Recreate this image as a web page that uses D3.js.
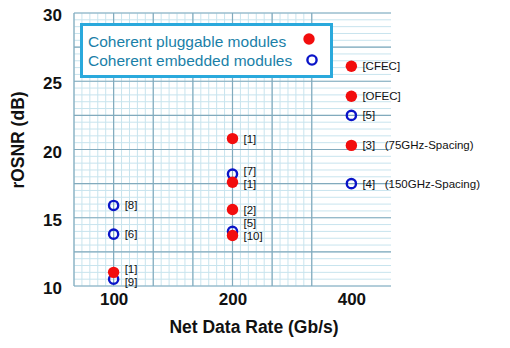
<!DOCTYPE html>
<html><head><meta charset="utf-8">
<script src="https://cdn.jsdelivr.net/npm/d3@7"></script>
<style>body{margin:0;background:#fff}svg{display:block}text{font-family:"Liberation Sans",Arial,sans-serif}</style>
</head><body><svg id="c" width="510" height="348"></svg>
<script>
// ---- data ----
const xTicks = [100, 200, 400];
const yTicks = [10, 15, 20, 25, 30];
const pluggableX = [100, 200, 200, 200, 200, 400, 400, 400];
const pluggableY = [11.0, 20.8, 17.6, 15.6, 13.7, 26.1, 23.9, 20.3];
const pluggableLabels = ["[1]", "[1]", "[1]", "[2]", "[10]", "[CFEC]", "[OFEC]", "[3]  (75GHz-Spacing)"];
const embeddedX = [100, 100, 100, 200, 200, 400, 400];
const embeddedY = [10.5, 13.8, 15.9, 18.2, 14.0, 22.5, 17.5];
const embeddedLabels = ["[9]", "[6]", "[8]", "[7]", "[5]", "[5]", "[4]  (150GHz-Spacing)"];
const legendLabels = ["Coherent pluggable modules", "Coherent embedded modules"];
const xTitle = "Net Data Rate (Gb/s)";
const yTitle = "rOSNR (dB)";

// ---- layout ----
const L = 74, R = 391, T = 13, B = 286;
const svg = d3.select("#c");
const x = d3.scaleLog().base(2).domain([100 * Math.pow(2, -1/3), 400 * Math.pow(2, 1/3)]).range([L, R]);
const y = d3.scaleLinear().domain([10, 30]).range([B, T]);

const minorC = "#c8e4ee", majorC = "#82aabd";
const g = svg.append("g");
const lx0 = Math.log2(x.domain()[0]);
const vMinor = d3.range(0, 31).map(i => Math.pow(2, lx0 + i / 15));
const hMinor = d3.range(10, 30.01, 0.5);
g.selectAll(".vm").data(vMinor).join("line").attr("class","vm").attr("x1", d => x(d)).attr("x2", d => x(d))
  .attr("y1", T).attr("y2", B).attr("stroke", minorC).attr("stroke-width", 1);
g.selectAll(".hm").data(hMinor).join("line").attr("class","hm").attr("y1", d => y(d)).attr("y2", d => y(d))
  .attr("x1", L).attr("x2", R).attr("stroke", minorC).attr("stroke-width", 1);
const vMajor = d3.range(0, 31, 5).map(i => Math.pow(2, lx0 + i / 15));
const hMajor = d3.range(10, 30.01, 2.5);
g.selectAll(".vM").data(vMajor).join("line").attr("class","vM").attr("x1", d => x(d)).attr("x2", d => x(d))
  .attr("y1", T).attr("y2", B).attr("stroke", majorC).attr("stroke-width", 1.2);
g.selectAll(".hM").data(hMajor).join("line").attr("class","hM").attr("y1", d => y(d)).attr("y2", d => y(d))
  .attr("x1", L).attr("x2", R).attr("stroke", majorC).attr("stroke-width", 1.2);

const xAxis = svg.append("g").attr("transform", `translate(0,${B})`)
  .call(d3.axisBottom(x).tickValues(xTicks).tickFormat(d3.format("d")).tickSize(0).tickPadding(7));
const yAxis = svg.append("g").attr("transform", `translate(${L},0)`)
  .call(d3.axisLeft(y).tickValues(yTicks).tickFormat(d3.format("d")).tickSize(0).tickPadding(12));
[xAxis, yAxis].forEach(a => {
  a.select(".domain").remove();
  a.selectAll("text").attr("font-family", "Liberation Sans, Arial, sans-serif")
    .attr("font-size", 17).attr("font-weight", "bold").attr("fill", "#111");
});
yAxis.selectAll(".tick text").attr("dy", "0.45em");

svg.append("text").attr("x", 254).attr("y", 333).attr("text-anchor", "middle")
  .attr("font-size", 17.5).attr("font-weight", "bold").attr("fill", "#111").text(xTitle);
svg.append("text").attr("transform", "translate(24,140) rotate(-90)").attr("text-anchor", "middle")
  .attr("font-size", 17.5).attr("font-weight", "bold").attr("fill", "#111").text(yTitle);

// label nudges (vertical offsets in px, by series/index)
const nudgeP = {0: -3, 2: 2};
const nudgeE = {0: 3, 3: -3, 4: -8};

const red = "#f20d0d", blue = "#0a14c8";
const pts = svg.append("g");
embeddedY.forEach((v, i) => {
  pts.append("circle").attr("cx", x(embeddedX[i])).attr("cy", y(v)).attr("r", 4.6)
    .attr("fill", "none").attr("stroke", blue).attr("stroke-width", 2.4);
});
pluggableY.forEach((v, i) => {
  pts.append("circle").attr("cx", x(pluggableX[i])).attr("cy", y(v)).attr("r", 5.7).attr("fill", red);
});

const lab = svg.append("g").attr("font-size", 11.5).attr("fill", "#111");
const addLabel = (px, py, t) => lab.append("text").attr("x", px).attr("y", py)
  .attr("dy", "0.35em").text(t.replace(/  /g, "\u00a0 \u00a0"));
pluggableY.forEach((v, i) => addLabel(x(pluggableX[i]) + 11, y(v) + (nudgeP[i] || 0), pluggableLabels[i]));
embeddedY.forEach((v, i) => addLabel(x(embeddedX[i]) + 11, y(v) + (nudgeE[i] || 0), embeddedLabels[i]));

// legend
const lg = svg.append("g");
lg.append("rect").attr("x", 81.5).attr("y", 24.5).attr("width", 250).attr("height", 52)
  .attr("fill", "#fff").attr("stroke", "#2aa9dc").attr("stroke-width", 3);
legendLabels.forEach((t, i) => {
  lg.append("text").attr("x", 88).attr("y", 42 + i * 18.5).attr("dy", "0.35em")
    .attr("font-size", 15.5).attr("fill", "#1a7fa8").text(t);
});
lg.append("circle").attr("cx", 309).attr("cy", 39).attr("r", 5.7).attr("fill", red);
lg.append("circle").attr("cx", 312).attr("cy", 60).attr("r", 4.6).attr("fill", "none")
  .attr("stroke", blue).attr("stroke-width", 2.4);
</script></body></html>
